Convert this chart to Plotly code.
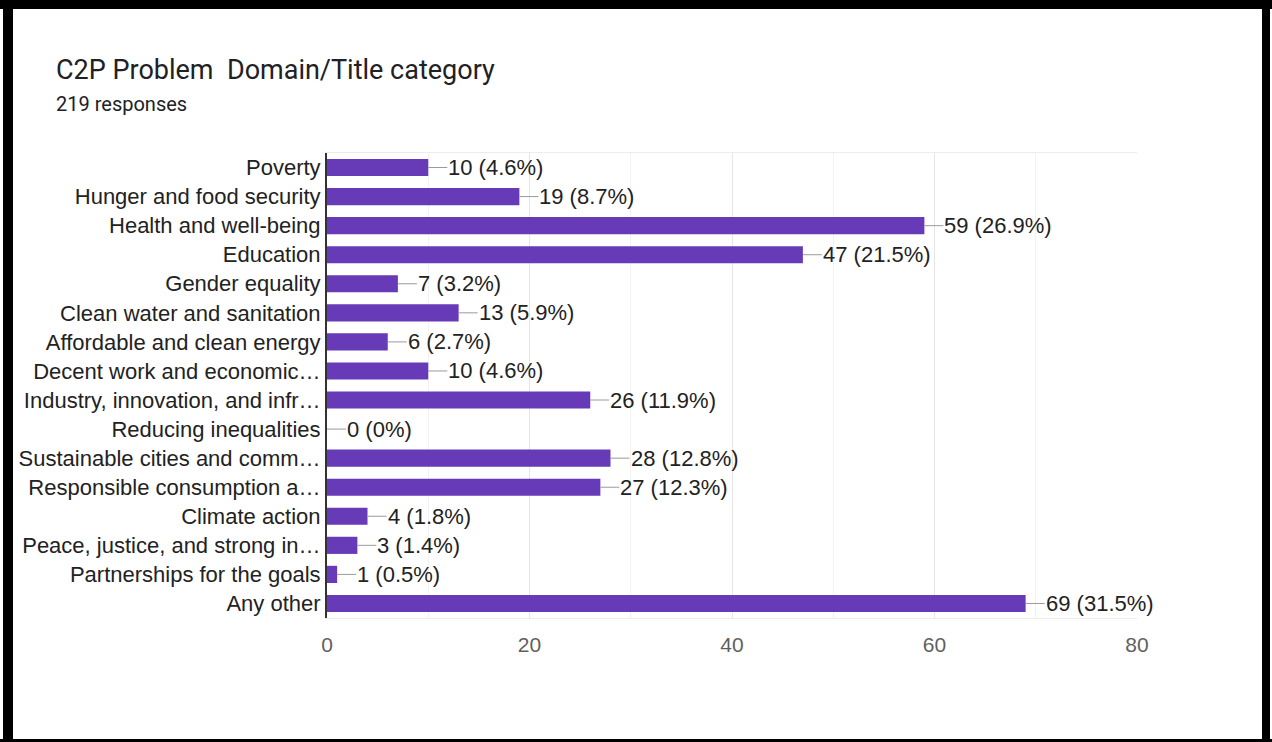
import plotly.graph_objects as go

# Survey question and response count
TITLE = "C2P Problem  Domain/Title category"
SUBTITLE = "219 responses"

categories = [
    "Poverty",
    "Hunger and food security",
    "Health and well-being",
    "Education",
    "Gender equality",
    "Clean water and sanitation",
    "Affordable and clean energy",
    "Decent work and economic\u2026",
    "Industry, innovation, and infr\u2026",
    "Reducing inequalities",
    "Sustainable cities and comm\u2026",
    "Responsible consumption a\u2026",
    "Climate action",
    "Peace, justice, and strong in\u2026",
    "Partnerships for the goals",
    "Any other",
]
counts = [10, 19, 59, 47, 7, 13, 6, 10, 26, 0, 28, 27, 4, 3, 1, 69]
percents = ["4.6%", "8.7%", "26.9%", "21.5%", "3.2%", "5.9%", "2.7%", "4.6%",
            "11.9%", "0%", "12.8%", "12.3%", "1.8%", "1.4%", "0.5%", "31.5%"]
x_ticks = [0, 20, 40, 60, 80]

W, H = 1272, 742
ML, MR, MT, MB = 327, 135, 153, 124
PW, PH = W - ML - MR, H - MT - MB

BAR = "#673ab7"
LABEL_FONT = "Arial, Liberation Sans, sans-serif"


def px_x(v):
    return (v - ML) / PW


def px_y(v):
    return (H - MB - v) / PH


fig = go.Figure(go.Bar(
    x=counts,
    y=categories,
    orientation="h",
    marker=dict(color=BAR, line=dict(width=0)),
    hoverinfo="skip",
))

# value labels with a short leader line from the bar end
for cat, n, p in zip(categories, counts, percents):
    fig.add_annotation(
        x=n, y=cat, xref="x", yref="y",
        text=f"{n} ({p})",
        showarrow=True, arrowhead=0, arrowwidth=1, arrowcolor="#9a9a9a",
        ax=19, ay=0, standoff=0, startstandoff=0,
        xanchor="left", yanchor="middle",
        borderpad=0,
        font=dict(family=LABEL_FONT, size=22, color="#222222"),
    )

# page heading
fig.add_annotation(
    x=px_x(54), y=px_y(70), xref="paper", yref="paper", text=TITLE,
    showarrow=False, xanchor="left", yanchor="middle",
    font=dict(family="Roboto, sans-serif", size=27, color="#202124"),
)
fig.add_annotation(
    x=px_x(54), y=px_y(104), xref="paper", yref="paper", text=SUBTITLE,
    showarrow=False, xanchor="left", yanchor="middle",
    font=dict(family="Roboto, sans-serif", size=20, color="#202124"),
)

# black frame around the card
for x0, y0, x1, y1 in [(0, 0, W, 9), (3, 0, 13, H), (1262, 0, 1270, H), (0, 739, W, H)]:
    fig.add_shape(
        type="rect", xref="paper", yref="paper",
        x0=px_x(x0), x1=px_x(x1), y0=px_y(y1), y1=px_y(y0),
        fillcolor="black", line=dict(width=0), layer="above",
    )

fig.update_layout(
    width=W, height=H,
    margin=dict(l=ML, r=MR, t=MT, b=MB, pad=0),
    paper_bgcolor="white", plot_bgcolor="white",
    bargap=0.41,
    showlegend=False,
    xaxis=dict(
        range=[0, 80],
        tickvals=x_ticks,
        ticks="",
        showgrid=True, gridcolor="#e6e6e6", gridwidth=1,
        minor=dict(dtick=10, showgrid=True, gridcolor="#f2f2f2", gridwidth=1),
        showline=True, mirror=True, linecolor="#ececec", linewidth=1,
        zeroline=False,
        tickfont=dict(family=LABEL_FONT, size=21, color="#5f5f5f"),
        ticklabelstandoff=8,
        fixedrange=True,
    ),
    yaxis=dict(
        autorange="reversed",
        ticks="",
        showgrid=False,
        showline=True, linecolor="#333333", linewidth=2,
        tickfont=dict(family=LABEL_FONT, size=22, color="#222222"),
        ticklabelstandoff=0,
        fixedrange=True,
    ),
)

fig.write_html("out.html", config=dict(displayModeBar=False))
